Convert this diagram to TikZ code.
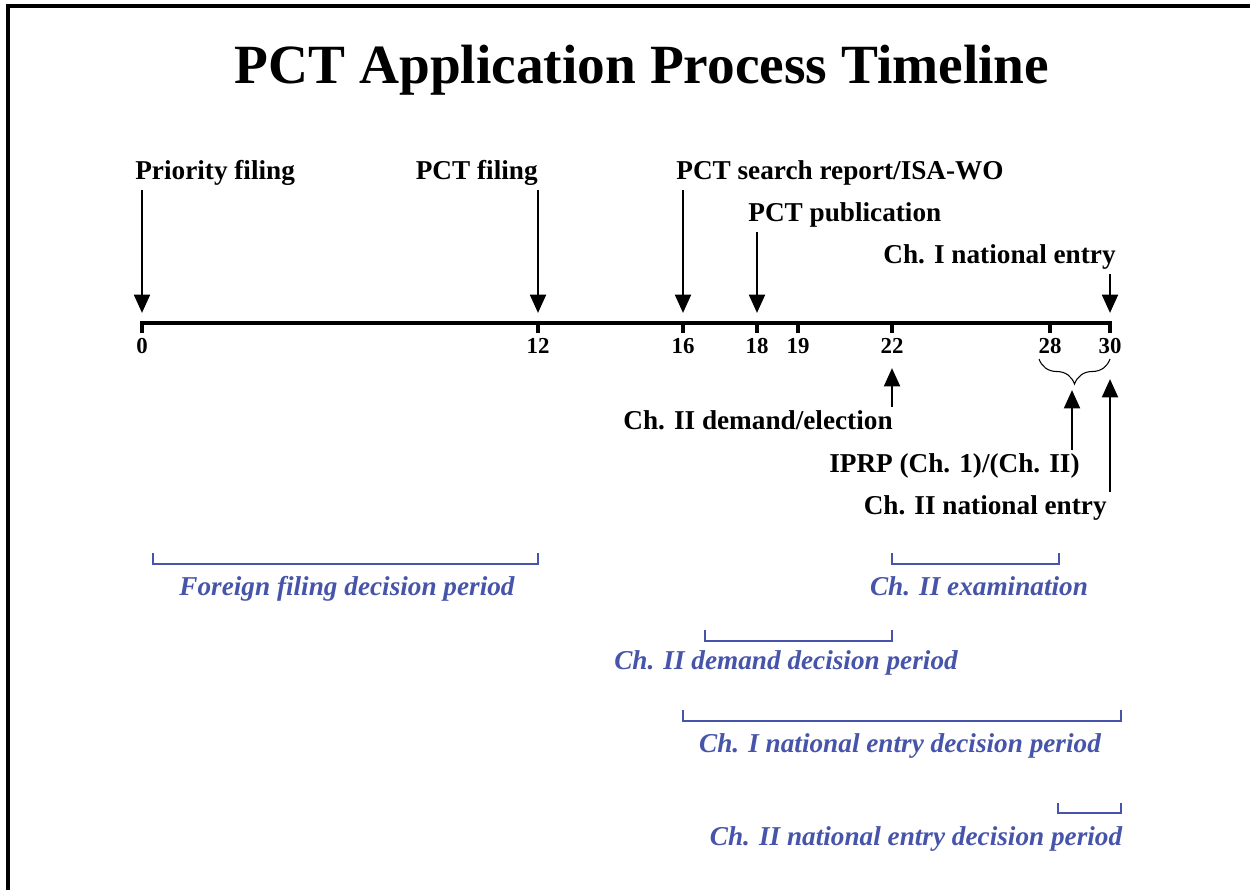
\documentclass[tikz,border=0pt]{standalone}
\usepackage{fontspec}
\setmainfont{Liberation Serif}
\usetikzlibrary{arrows.meta,decorations.pathreplacing,calc}
\definecolor{pblue}{RGB}{70,84,170}
\begin{document}
\begin{tikzpicture}[x=0.02cm,y=-0.02cm,
  lbl/.style={font=\fontsize{15.5}{18}\selectfont\bfseries, inner sep=0pt},
  num/.style={font=\fontsize{13}{15}\selectfont\bfseries, inner sep=0pt},
  per/.style={font=\fontsize{15.5}{18}\selectfont\bfseries\itshape, text=pblue, inner sep=0pt, anchor=base},
  evarrow/.style={line width=1.6pt, -{Triangle[width=9pt,length=10.5pt]}},
  bracket/.style={draw=pblue, line width=1.3pt},
  tickmark/.style={line width=1.8pt}]

\useasboundingbox (0,0) rectangle (1250,890);
\fill[white] (0,0) rectangle (1250,890);
\draw[line width=2pt] (8,890) -- (8,6) -- (1250,6);

% title
\node[font=\fontsize{31.5}{36}\selectfont\bfseries, inner sep=0pt] (title) at (642,70) {PCT Application Process Timeline};

% timeline
\foreach \m/\x in {0/142,12/538,16/683,18/757,19/798,22/892,28/1050,30/1110} {
  \coordinate (t\m) at (\x,323);
  \node[num] (n\m) at (\x,346) {\m};
}
\draw[tickmark] ($(t0)+(0,10)$) -- (t0) -- (t30) -- ($(t30)+(0,10)$);
\foreach \m in {12,16,18,19,22,28} { \draw[tickmark] (t\m) -- ($(t\m)+(0,10)$); }

% events above
\node[lbl, anchor=base west] (lprio) at (135,179) {Priority filing};
\node[lbl, anchor=base east] (lpct) at (538,179) {PCT filing};
\node[lbl, anchor=base west] (lsearch) at (676,179) {PCT search report/ISA-WO};
\node[lbl, anchor=base west] (lpub) at (748,221) {PCT publication};
\node[lbl, anchor=base east] (lentry1) at (1116,263) {Ch. I national entry};

\draw[evarrow] ($(lprio.south -| t0)+(0,5)$) -- ($(t0)+(0,-10)$);
\draw[evarrow] ($(lpct.south -| t12)+(0,5)$) -- ($(t12)+(0,-10)$);
\draw[evarrow] ($(lsearch.south -| t16)+(0,5)$) -- ($(t16)+(0,-10)$);
\draw[evarrow] ($(lpub.south -| t18)+(0,5)$) -- ($(t18)+(0,-10)$);
\draw[evarrow] ($(lentry1.south -| t30)+(0,5)$) -- ($(t30)+(0,-10)$);

% events below
\node[lbl, anchor=base east] (ldemand) at (893,429) {Ch. II demand/election};
\node[lbl, anchor=base east] (liprp) at (1080,472) {IPRP (Ch. 1)/(Ch. II)};
\node[lbl, anchor=base east] (lentry2) at (1107,514) {Ch. II national entry};

\draw[line width=0.6pt, decorate, decoration={brace, mirror, amplitude=0.5cm}] (1039,359) -- (1110,359);
\coordinate (bracetip) at (1072,390);

\draw[evarrow] ($(ldemand.north -| t22)+(0,-3)$) -- ($(t22)+(0,45)$);
\draw[evarrow] ($(liprp.north -| bracetip)+(0,-3)$) -- (bracetip);
\draw[evarrow] ($(lentry2.north -| t30)+(0,-3)$) -- ($(t30)+(0,56)$);

% periods
\coordinate (f1) at (153,553); \coordinate (f2) at (538,553);
\draw[bracket] (f1) -- ++(0,11) -| (f2);
\node[per] (pforeign) at (347,595) {Foreign filing decision period};

\coordinate (e1) at (892,553); \coordinate (e2) at (1059,553);
\draw[bracket] (e1) -- ++(0,11) -| (e2);
\node[per] (pexam) at (979,595) {Ch. II examination};

\coordinate (d1) at (705,630); \coordinate (d2) at (892,630);
\draw[bracket] (d1) -- ++(0,11) -| (d2);
\node[per] (pdemand) at (786,669) {Ch. II demand decision period};

\coordinate (c1) at (683,710); \coordinate (c2) at (1121,710);
\draw[bracket] (c1) -- ++(0,11) -| (c2);
\node[per] (pentry1) at (900,752) {Ch. I national entry decision period};

\coordinate (g1) at (1058,803); \coordinate (g2) at (1121,803);
\draw[bracket] (g1) -- ++(0,10) -| (g2);
\node[per] (pentry2) at (916,845) {Ch. II national entry decision period};
\end{tikzpicture}
\end{document}
